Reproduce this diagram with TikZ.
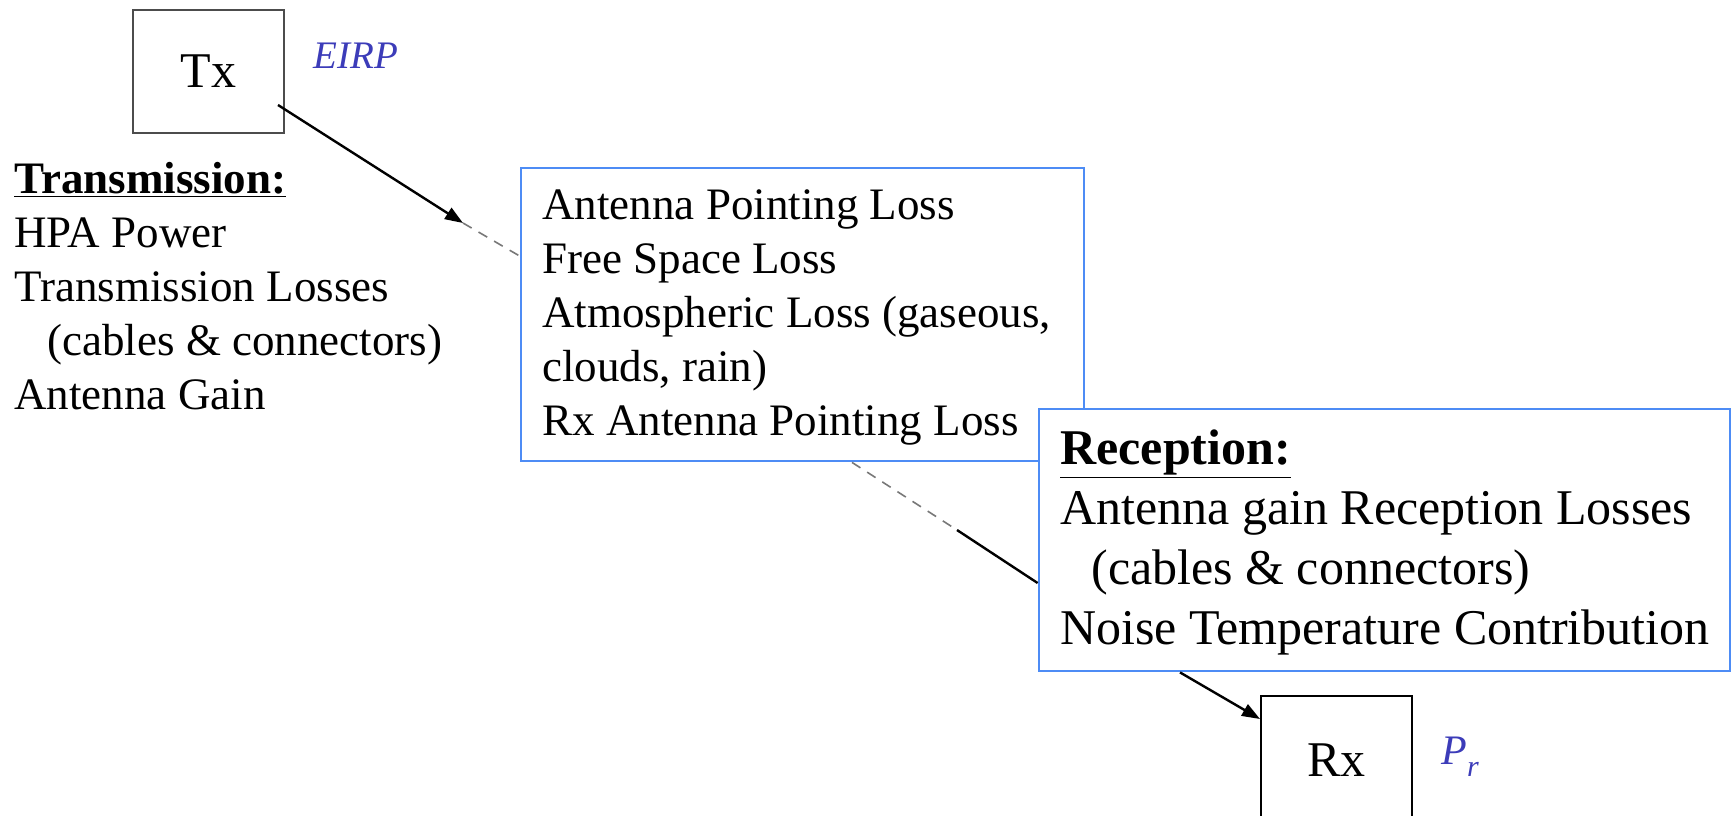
\documentclass[tikz,border=0pt]{standalone}
\usepackage{fontspec}
\setmainfont{Liberation Serif}
\usetikzlibrary{arrows.meta}
\definecolor{boxblue}{RGB}{77,140,245}
\definecolor{lblblue}{RGB}{60,60,185}
\definecolor{dashgray}{RGB}{120,120,120}
\begin{document}
\begin{tikzpicture}[x=0.5pt,y=-0.5pt,
  blackbox/.style={draw, line width=1pt, fill=white, inner sep=0pt, font=\fontsize{25}{30}\selectfont},
  bluebox/.style={draw=boxblue, line width=1.4pt, fill=white, inner sep=0pt},
  txt/.style={anchor=north west, inner sep=0pt, align=left},
  conn/.style={line width=1.2pt, draw=black},
  arr/.style={conn, -{Triangle[length=9pt,width=6.5pt]}},
  dashc/.style={draw=dashgray, line width=0.8pt, dash pattern=on 5pt off 4pt},
  lbl/.style={text=lblblue, inner sep=0pt, font=\fontsize{19.5}{22}\selectfont\itshape}]
\useasboundingbox (0,0) rectangle (1732,815);
\clip (0,0) rectangle (1732,815);
\fill[white] (0,0) rectangle (1732,815);

% boxes
\node[blackbox, draw=black!70, minimum width=75.5pt, minimum height=61.5pt] (tx) at (208.5,71.5) {Tx};
\node[blackbox, minimum width=75.5pt, minimum height=64pt] (rx) at (1336.5,760) {Rx};
\node[bluebox, minimum width=281.5pt, minimum height=146.5pt] (mid) at (802.5,314.5) {};
\node[bluebox, minimum width=345.5pt, minimum height=131pt] (rec) at (1384.5,540) {};

% texts
\node[txt, font=\fontsize{22.5}{27}\selectfont] (ttext) at (14,153)
 {\rule{0pt}{20pt}\underline{\textbf{Transmission:}}\\
  HPA Power\\
  Transmission Losses\\
  \hspace*{16.5pt}(cables \& connectors)\\
  Antenna Gain};
\node[txt, font=\fontsize{22.5}{27}\selectfont] (mtext) at (542,179)
 {\rule{0pt}{20pt}Antenna Pointing Loss\\
  Free Space Loss\\
  Atmospheric Loss (gaseous,\\
  clouds, rain)\\
  Rx Antenna Pointing Loss};
\node[txt, font=\fontsize{25}{30}\selectfont] (rtext) at (1060,420)
 {\rule{0pt}{22pt}\underline{\textbf{Reception:}}\\
  Antenna gain Reception Losses\\
  \hspace*{15.5pt}(cables \& connectors)\\
  Noise Temperature Contribution};

\node[lbl, anchor=base] (eirp) at (356,68) {EIRP};
\node[lbl, anchor=base west, font=\fontsize{21}{22}\selectfont\itshape] (pr) at (1441,764) {P\raisebox{-6pt}{\fontsize{15}{15}\selectfont r}};

% connectors
\coordinate (a1) at (463,223);
\coordinate (c1) at (957,530);
\draw[arr] ([xshift=-3.5pt,yshift=14.5pt]tx.south east) -- (a1);
\draw[dashc] (a1) -- ([yshift=29.25pt]mid.west);
\draw[dashc] ([xshift=24.75pt]mid.south) -- (c1);
\draw[conn] (c1) -- ([yshift=-21.5pt]rec.west);
\draw[arr] ([xshift=-102.25pt]rec.south) -- ([yshift=20.5pt]rx.west);
\end{tikzpicture}
\end{document}
